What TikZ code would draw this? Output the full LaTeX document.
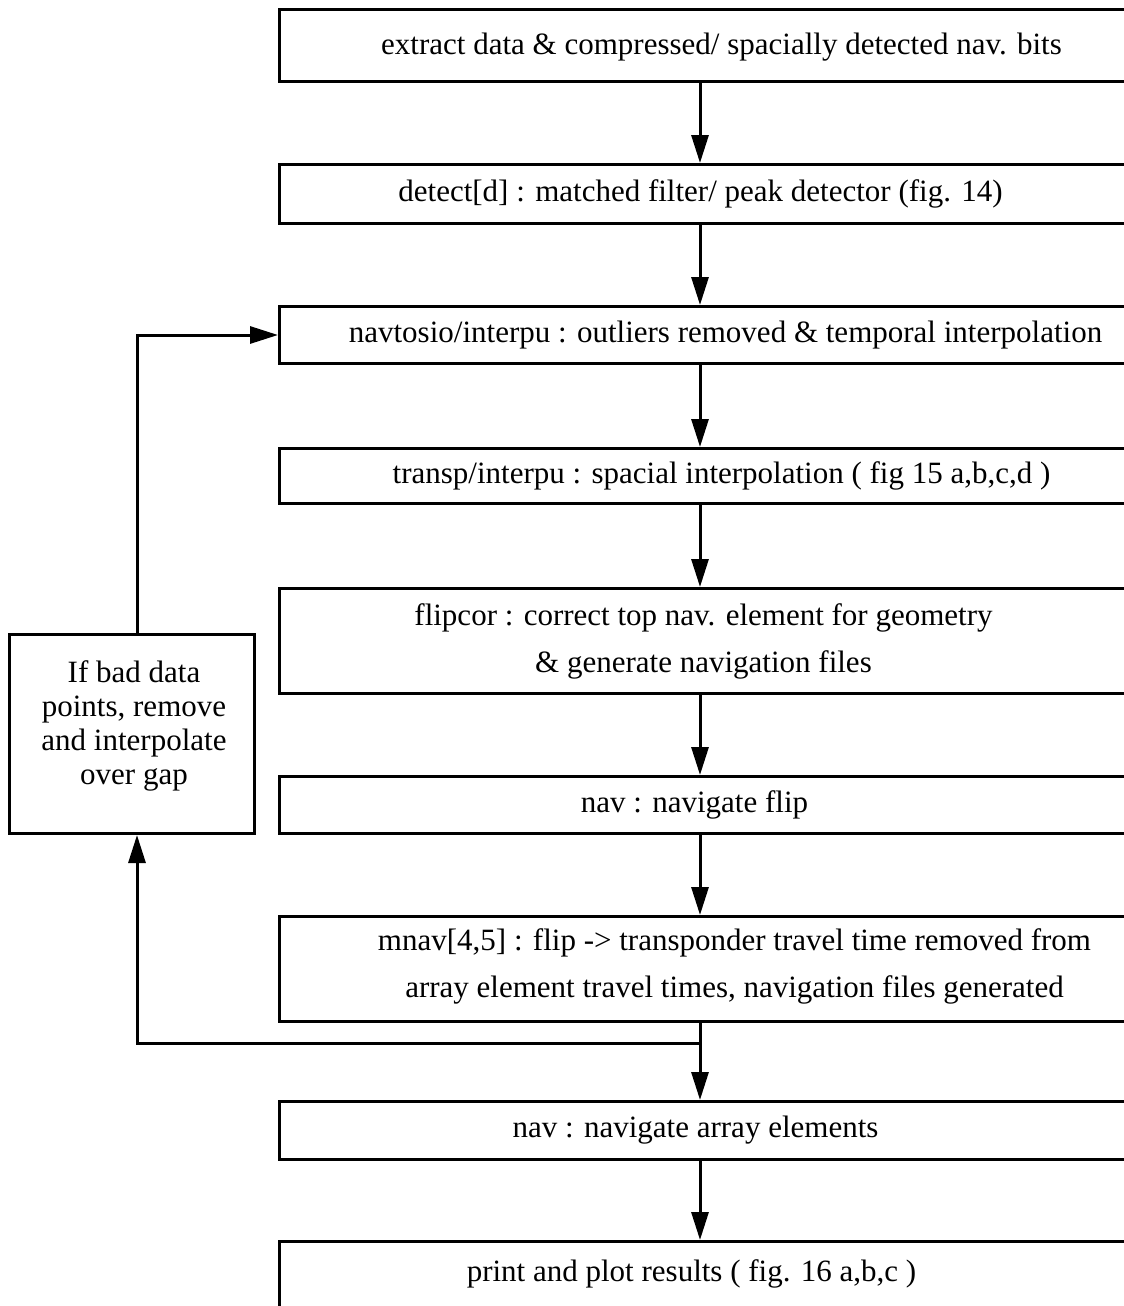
\documentclass[tikz,border=0pt]{standalone}
\usepackage{fontspec}
\setmainfont{Liberation Serif}
\usetikzlibrary{arrows.meta, positioning}

\tikzset{
  stage/.style={draw, line width=3pt, anchor=north west, minimum width=862pt, inner sep=0pt},
  note/.style={draw, line width=3pt, anchor=north west, minimum width=245pt,
               minimum height=199pt, inner sep=0pt},
  caption/.style={font=\fontsize{31}{47}\selectfont, align=center, inner sep=0pt},
  flow/.style={line width=3pt, -{Triangle[length=28pt, width=17pt]}},
}

\begin{document}
\begin{tikzpicture}[x=1pt, y=-1pt, font=\fontsize{31}{35}\selectfont]
  \useasboundingbox (0,0) rectangle (1124,1306);

  % Main processing chain
  \node[stage, minimum height=72pt,
        label={[caption, xshift=11pt, yshift=-2pt]center:{extract data \& compressed/ spacially detected nav. bits}}]
        (extract) at (278,8) {};
  \node[stage, minimum height=59pt,
        label={[caption, xshift=-10pt]center:{detect[d] : matched filter/ peak detector (fig. 14)}}]
        (detect) at (278,163) {};
  \node[stage, minimum height=57pt,
        label={[caption, xshift=15pt]center:{navtosio/interpu : outliers removed \& temporal interpolation}}]
        (navtosio) at (278,305) {};
  \node[stage, minimum height=55pt,
        label={[caption, xshift=11pt]center:{transp/interpu : spacial interpolation ( fig 15 a,b,c,d )}}]
        (transp) at (278,447) {};
  \node[stage, minimum height=105pt,
        label={[caption, xshift=-7pt]center:{flipcor : correct top nav. element for geometry\\ \& generate navigation files}}]
        (flipcor) at (278,587) {};
  \node[stage, minimum height=57pt,
        label={[caption, xshift=-16pt]center:{nav : navigate flip}}]
        (navflip) at (278,775) {};
  \node[stage, minimum height=105pt,
        label={[caption, xshift=24pt, yshift=3pt]center:{mnav[4,5] : flip -> transponder travel time removed from\\ array element travel times, navigation files generated}}]
        (mnav) at (278,915) {};
  \node[stage, minimum height=58pt,
        label={[caption, xshift=-15pt]center:{nav : navigate array elements}}]
        (navarray) at (278,1100) {};
  \node[stage, minimum height=100pt,
        label={[caption, xshift=-19pt, yshift=18pt]center:{print and plot results ( fig. 16 a,b,c )}}]
        (results) at (278,1240) {};

  % Bad data loop
  \node[note, label={[caption, font=\fontsize{31}{34}\selectfont, xshift=2pt, yshift=8pt]center:{If bad data\\ points, remove\\ and interpolate\\ over gap}}]
        (gapfix) at (8,633) {};

  \coordinate (spine) at (700,0);
  \coordinate (loopx) at (137,0);
  \coordinate (branch) at (700,1043);

  % Arrows down the chain
  \draw[flow] (extract.south -| spine) -- (detect.north -| spine);
  \draw[flow] (detect.south -| spine) -- (navtosio.north -| spine);
  \draw[flow] (navtosio.south -| spine) -- (transp.north -| spine);
  \draw[flow] (transp.south -| spine) -- (flipcor.north -| spine);
  \draw[flow] (flipcor.south -| spine) -- (navflip.north -| spine);
  \draw[flow] (navflip.south -| spine) -- (mnav.north -| spine);
  \draw[flow] (mnav.south -| spine) -- (navarray.north -| spine);
  \draw[flow] (navarray.south -| spine) -- (results.north -| spine);

  % Feedback
  \draw[flow] (branch) -| (gapfix.south -| loopx);
  \draw[flow] (gapfix.north -| loopx) |- (navtosio.west);
\end{tikzpicture}
\end{document}
